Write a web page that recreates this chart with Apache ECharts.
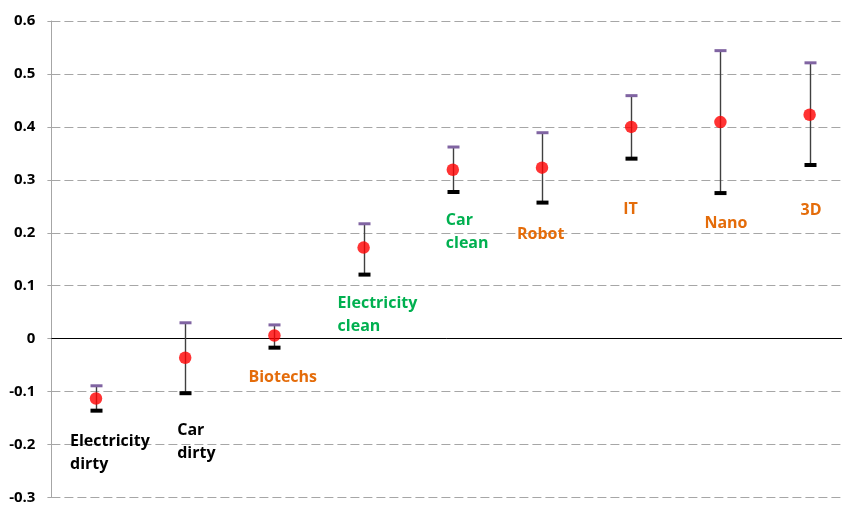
<!DOCTYPE html>
<html>
<head>
<meta charset="utf-8">
<script src="https://cdn.jsdelivr.net/npm/echarts@6/dist/echarts.min.js"></script>
<style>html,body{margin:0;padding:0;background:#fff;}#c{width:842px;height:505px;}</style>
</head>
<body>
<div id="c"></div>
<script>
// ---- data ----
const categories = ['Electricity\ndirty', 'Car\ndirty', 'Biotechs', 'Electricity\nclean', 'Car\nclean', 'Robot', 'IT', 'Nano', '3D'];
const pointValues = [-0.113, -0.036, 0.006, 0.172, 0.319, 0.323, 0.400, 0.409, 0.423];
const upperValues = [-0.089, 0.030, 0.026, 0.217, 0.362, 0.389, 0.459, 0.544, 0.521];
const lowerValues = [-0.136, -0.103, -0.017, 0.121, 0.277, 0.257, 0.340, 0.275, 0.328];
const groups = ['dirty', 'dirty', 'other', 'clean', 'clean', 'other', 'other', 'other', 'other'];
const yTicks = [-0.3, -0.2, -0.1, 0, 0.1, 0.2, 0.3, 0.4, 0.5, 0.6];

// ---- styling (not data) ----
const groupColors = { dirty: '#000000', clean: '#00B050', other: '#E46C0A' };
const labelOffsets = [[-26, 54], [-8, 84], [-26, 42], [-26, 67], [-7, 62], [-25, 67], [-8, 83], [-16, 101], [-9, 96]];
const FONT = '"Open Sans", "Noto Sans", sans-serif';

const chart = echarts.init(document.getElementById('c'), null, { renderer: 'canvas' });

const errData = categories.map((c, i) => [i, lowerValues[i], upperValues[i]]);
const pointData = categories.map((c, i) => [i, pointValues[i]]);

chart.setOption({
  animation: false,
  backgroundColor: '#ffffff',
  grid: { left: 51.4, top: 21, right: 0, height: 478, containLabel: false },
  xAxis: {
    type: 'value',
    min: -0.5,
    max: 8.363,
    axisLine: { onZero: true, lineStyle: { color: '#000000', width: 1 } },
    axisTick: { show: false },
    axisLabel: { show: false },
    splitLine: { show: false }
  },
  yAxis: {
    type: 'value',
    min: yTicks[0],
    max: yTicks[yTicks.length - 1],
    interval: 0.1,
    axisLine: { show: true, onZero: false, lineStyle: { color: '#A6A6A6', width: 1 } },
    axisTick: { show: true, length: 4, lineStyle: { color: '#A6A6A6' } },
    axisLabel: {
      margin: 16,
      color: '#000000',
      fontFamily: FONT,
      fontWeight: 'bold',
      fontSize: 15,
      formatter: v => String(Math.round(v * 10) / 10)
    },
    splitLine: { show: true, lineStyle: { color: '#A6A6A6', width: 1, type: [9, 4] } }
  },
  series: [
    {
      type: 'custom',
      name: 'range',
      data: errData,
      z: 2,
      renderItem: function (params, api) {
        const lo = api.coord([api.value(0), api.value(1)]);
        const hi = api.coord([api.value(0), api.value(2)]);
        const x = Math.round(lo[0]) + 0.5;
        return {
          type: 'group',
          children: [
            { type: 'line', shape: { x1: x, y1: lo[1], x2: x, y2: hi[1] }, style: { stroke: '#404040', lineWidth: 1.4 } },
            { type: 'rect', shape: { x: x - 6, y: hi[1] - 1.5, width: 12, height: 3 }, style: { fill: '#8064A2' } },
            { type: 'rect', shape: { x: x - 6, y: lo[1] - 2, width: 12, height: 4 }, style: { fill: '#000000' } }
          ]
        };
      }
    },
    {
      type: 'scatter',
      name: 'mean',
      data: pointData,
      z: 3,
      symbol: 'circle',
      symbolSize: 12.5,
      itemStyle: { color: '#FF0000' }
    },
    {
      type: 'custom',
      name: 'labels',
      data: pointData,
      z: 4,
      renderItem: function (params, api) {
        const i = params.dataIndex;
        const p = api.coord([api.value(0), api.value(1)]);
        return {
          type: 'text',
          style: {
            x: p[0] + labelOffsets[i][0],
            y: p[1] + labelOffsets[i][1],
            text: categories[i],
            fill: groupColors[groups[i]],
            font: 'bold 16px ' + FONT,
            lineHeight: 23,
            align: 'left',
            verticalAlign: 'middle'
          }
        };
      }
    }
  ]
});
</script>
</body>
</html>
